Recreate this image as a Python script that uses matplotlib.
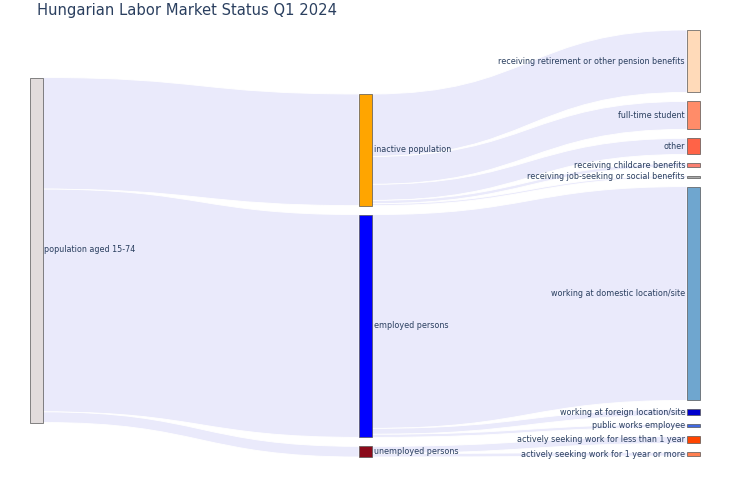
import matplotlib.pyplot as plt
from matplotlib.path import Path
from matplotlib.patches import PathPatch, Rectangle

# data (thousand persons)
title = "Hungarian Labor Market Status Q1 2024"
root_label = "population aged 15-74"
root_color = "#E2DCDC"

mid_labels = ["inactive population", "employed persons", "unemployed persons"]
mid_colors = ["#FFA500", "#0000FF", "#8B0A1A"]

out_labels = ["receiving retirement or other pension benefits",
              "full-time student",
              "other",
              "receiving childcare benefits",
              "receiving job-seeking or social benefits",
              "working at domestic location/site",
              "working at foreign location/site",
              "public works employee",
              "actively seeking work for less than 1 year",
              "actively seeking work for 1 year or more"]
out_parent = [0, 0, 0, 0, 0, 1, 1, 1, 2, 2]
out_values = [1320, 590, 340, 70, 40, 4520, 125, 65, 150, 75]
out_colors = ["#FFDAB9", "#FF8C69", "#FF6347", "#FA8072", "#A9A9A9",
              "#6FA6CF", "#0000CD", "#4169E1", "#FF4500", "#FF7F50"]

mid_values = [sum(v for v, p in zip(out_values, out_parent) if p == i) for i in range(3)]
total = sum(mid_values)

# layout in pixel units
W, H = 730, 487
col_x = [30, 359, 687]
node_w = 12.5
pad = 9
top, bottom = 30, 456
root_center = 250
k = (bottom - top - pad * (len(out_values) - 1)) / total

fig = plt.figure(figsize=(W / 100, H / 100), dpi=100)
ax = fig.add_axes([0, 0, 1, 1])
ax.set_xlim(0, W)
ax.set_ylim(H, 0)
ax.axis("off")

# right column stacked from the top
out_y = []
y = top
for v in out_values:
    out_y.append(y)
    y += v * k + pad

# middle column aligned to the bottom
mid_y = [0] * 3
y = bottom + 1
for i in range(2, -1, -1):
    y -= mid_values[i] * k
    mid_y[i] = y
    y -= pad

root_h = total * k
root_y = root_center - root_h / 2


def band(x0, a0, a1, x1, b0, b1):
    xm = (x0 + x1) / 2
    verts = [(x0, a0), (xm, a0), (xm, b0), (x1, b0),
             (x1, b1), (xm, b1), (xm, a1), (x0, a1), (x0, a0)]
    codes = [Path.MOVETO, Path.CURVE4, Path.CURVE4, Path.CURVE4,
             Path.LINETO, Path.CURVE4, Path.CURVE4, Path.CURVE4, Path.CLOSEPOLY]
    ax.add_patch(PathPatch(Path(verts, codes), facecolor="#EAEAFB",
                           edgecolor="white", lw=0.6, zorder=1))


# links root -> middle
y = root_y
for i, v in enumerate(mid_values):
    band(col_x[0] + node_w, y, y + v * k, col_x[1], mid_y[i], mid_y[i] + v * k)
    y += v * k

# links middle -> right
offs = list(mid_y)
for j, v in enumerate(out_values):
    p = out_parent[j]
    band(col_x[1] + node_w, offs[p], offs[p] + v * k,
         col_x[2], out_y[j], out_y[j] + v * k)
    offs[p] += v * k

txt = dict(fontsize=5.75, color="#2a3f5f", va="center", zorder=3)


def node(x, y0, h, color):
    ax.add_patch(Rectangle((x, y0), node_w, h, facecolor=color,
                           edgecolor="#555555", lw=0.5, zorder=2))


node(col_x[0], root_y, root_h, root_color)
ax.text(col_x[0] + node_w + 2, root_y + root_h / 2, root_label, ha="left", **txt)
for i in range(3):
    h = mid_values[i] * k
    node(col_x[1], mid_y[i], h, mid_colors[i])
    ax.text(col_x[1] + node_w + 2, mid_y[i] + h / 2, mid_labels[i], ha="left", **txt)
for j in range(len(out_values)):
    h = out_values[j] * k
    node(col_x[2], out_y[j], h, out_colors[j])
    ax.text(col_x[2] - 2, out_y[j] + h / 2, out_labels[j], ha="right", **txt)

fig.text(37 / W, 1 - 11 / H, title, fontsize=10.6, color="#2a3f5f", va="center", ha="left")

fig.savefig("out.png", dpi=100)
